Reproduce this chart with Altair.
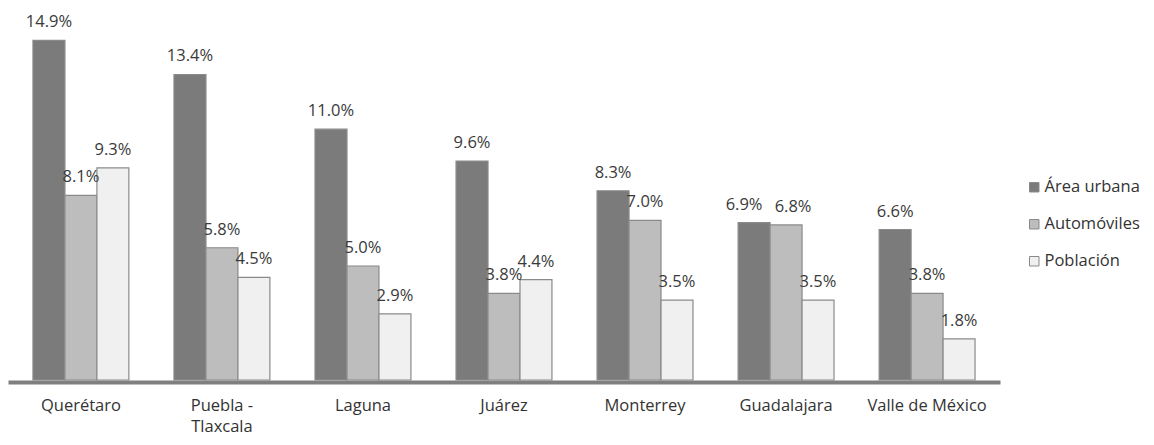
import altair as alt
import pandas as pd

categories = ["Querétaro", "Puebla -|Tlaxcala", "Laguna", "Juárez", "Monterrey", "Guadalajara", "Valle de México"]
series = ["Área urbana", "Automóviles", "Población"]
area_urbana = [14.9, 13.4, 11.0, 9.6, 8.3, 6.9, 6.6]
automoviles = [8.1, 5.8, 5.0, 3.8, 7.0, 6.8, 3.8]
poblacion = [9.3, 4.5, 2.9, 4.4, 3.5, 3.5, 1.8]
colors = ["#7b7b7b", "#bdbdbd", "#f0f0f0"]

rows = []
for vals, s in zip([area_urbana, automoviles, poblacion], series):
    for c, v in zip(categories, vals):
        rows.append({"cat": c, "serie": s, "value": v, "label": f"{v:.1f}%"})
df = pd.DataFrame(rows)

FONT = "Open Sans"

x = alt.X("cat:N", sort=categories, title=None,
          scale=alt.Scale(paddingInner=0.32, paddingOuter=0.177),
          axis=alt.Axis(labelExpr="split(datum.label, '|')", labelAngle=0,
                        labelFontSize=16.5, labelFont=FONT, labelColor="#333333",
                        labelPadding=15, labelLineHeight=21, ticks=False,
                        domainColor="#7f7f7f", domainWidth=4, offset=2))
xo = alt.XOffset("serie:N", sort=series, scale=alt.Scale(paddingInner=0, paddingOuter=0))
y = alt.Y("value:Q", scale=alt.Scale(domain=[0, 15], nice=False), axis=None)

bars = alt.Chart(df).mark_bar(stroke="#8a8a8a", strokeWidth=1.2).encode(
    x=x, xOffset=xo, y=y,
    color=alt.Color("serie:N", sort=series, title=None,
                    scale=alt.Scale(domain=series, range=colors),
                    legend=alt.Legend(orient="none", legendX=1018, legendY=141,
                                      symbolType="square", symbolSize=90,
                                      symbolStrokeColor="#8a8a8a", symbolStrokeWidth=1,
                                      labelFontSize=16.5, labelFont=FONT, labelColor="#333333",
                                      rowPadding=20, labelOffset=2, padding=0)),
)

# labels: the crowded Guadalajara pair is nudged apart, as in the reference
crowded = "datum.cat == 'Guadalajara' && datum.serie != 'Población'"
enc = dict(x=alt.X("cat:N", sort=categories), xOffset=alt.XOffset("serie:N", sort=series),
           y=y, text="label:N")
text_props = dict(baseline="alphabetic", dy=-13, fontSize=16.5, font=FONT, color="#3a3a3a")

text = alt.Chart(df).transform_filter(f"!({crowded})").mark_text(**text_props).encode(**enc)
text_left = alt.Chart(df).transform_filter(f"({crowded}) && datum.serie == 'Área urbana'") \
    .mark_text(dx=-10, **text_props).encode(**enc)
text_right = alt.Chart(df).transform_filter(f"({crowded}) && datum.serie == 'Automóviles'") \
    .mark_text(dx=7, **text_props).encode(**enc)

chart = alt.layer(bars, text, text_left, text_right).properties(
    width=992, height=342,
    autosize=alt.AutoSizeParams(type="none"),
    padding={"left": 0, "top": 30, "right": 146, "bottom": 57},
).configure_view(stroke=None)

chart.save("out.html", embed_options={"renderer": "svg", "actions": False})
